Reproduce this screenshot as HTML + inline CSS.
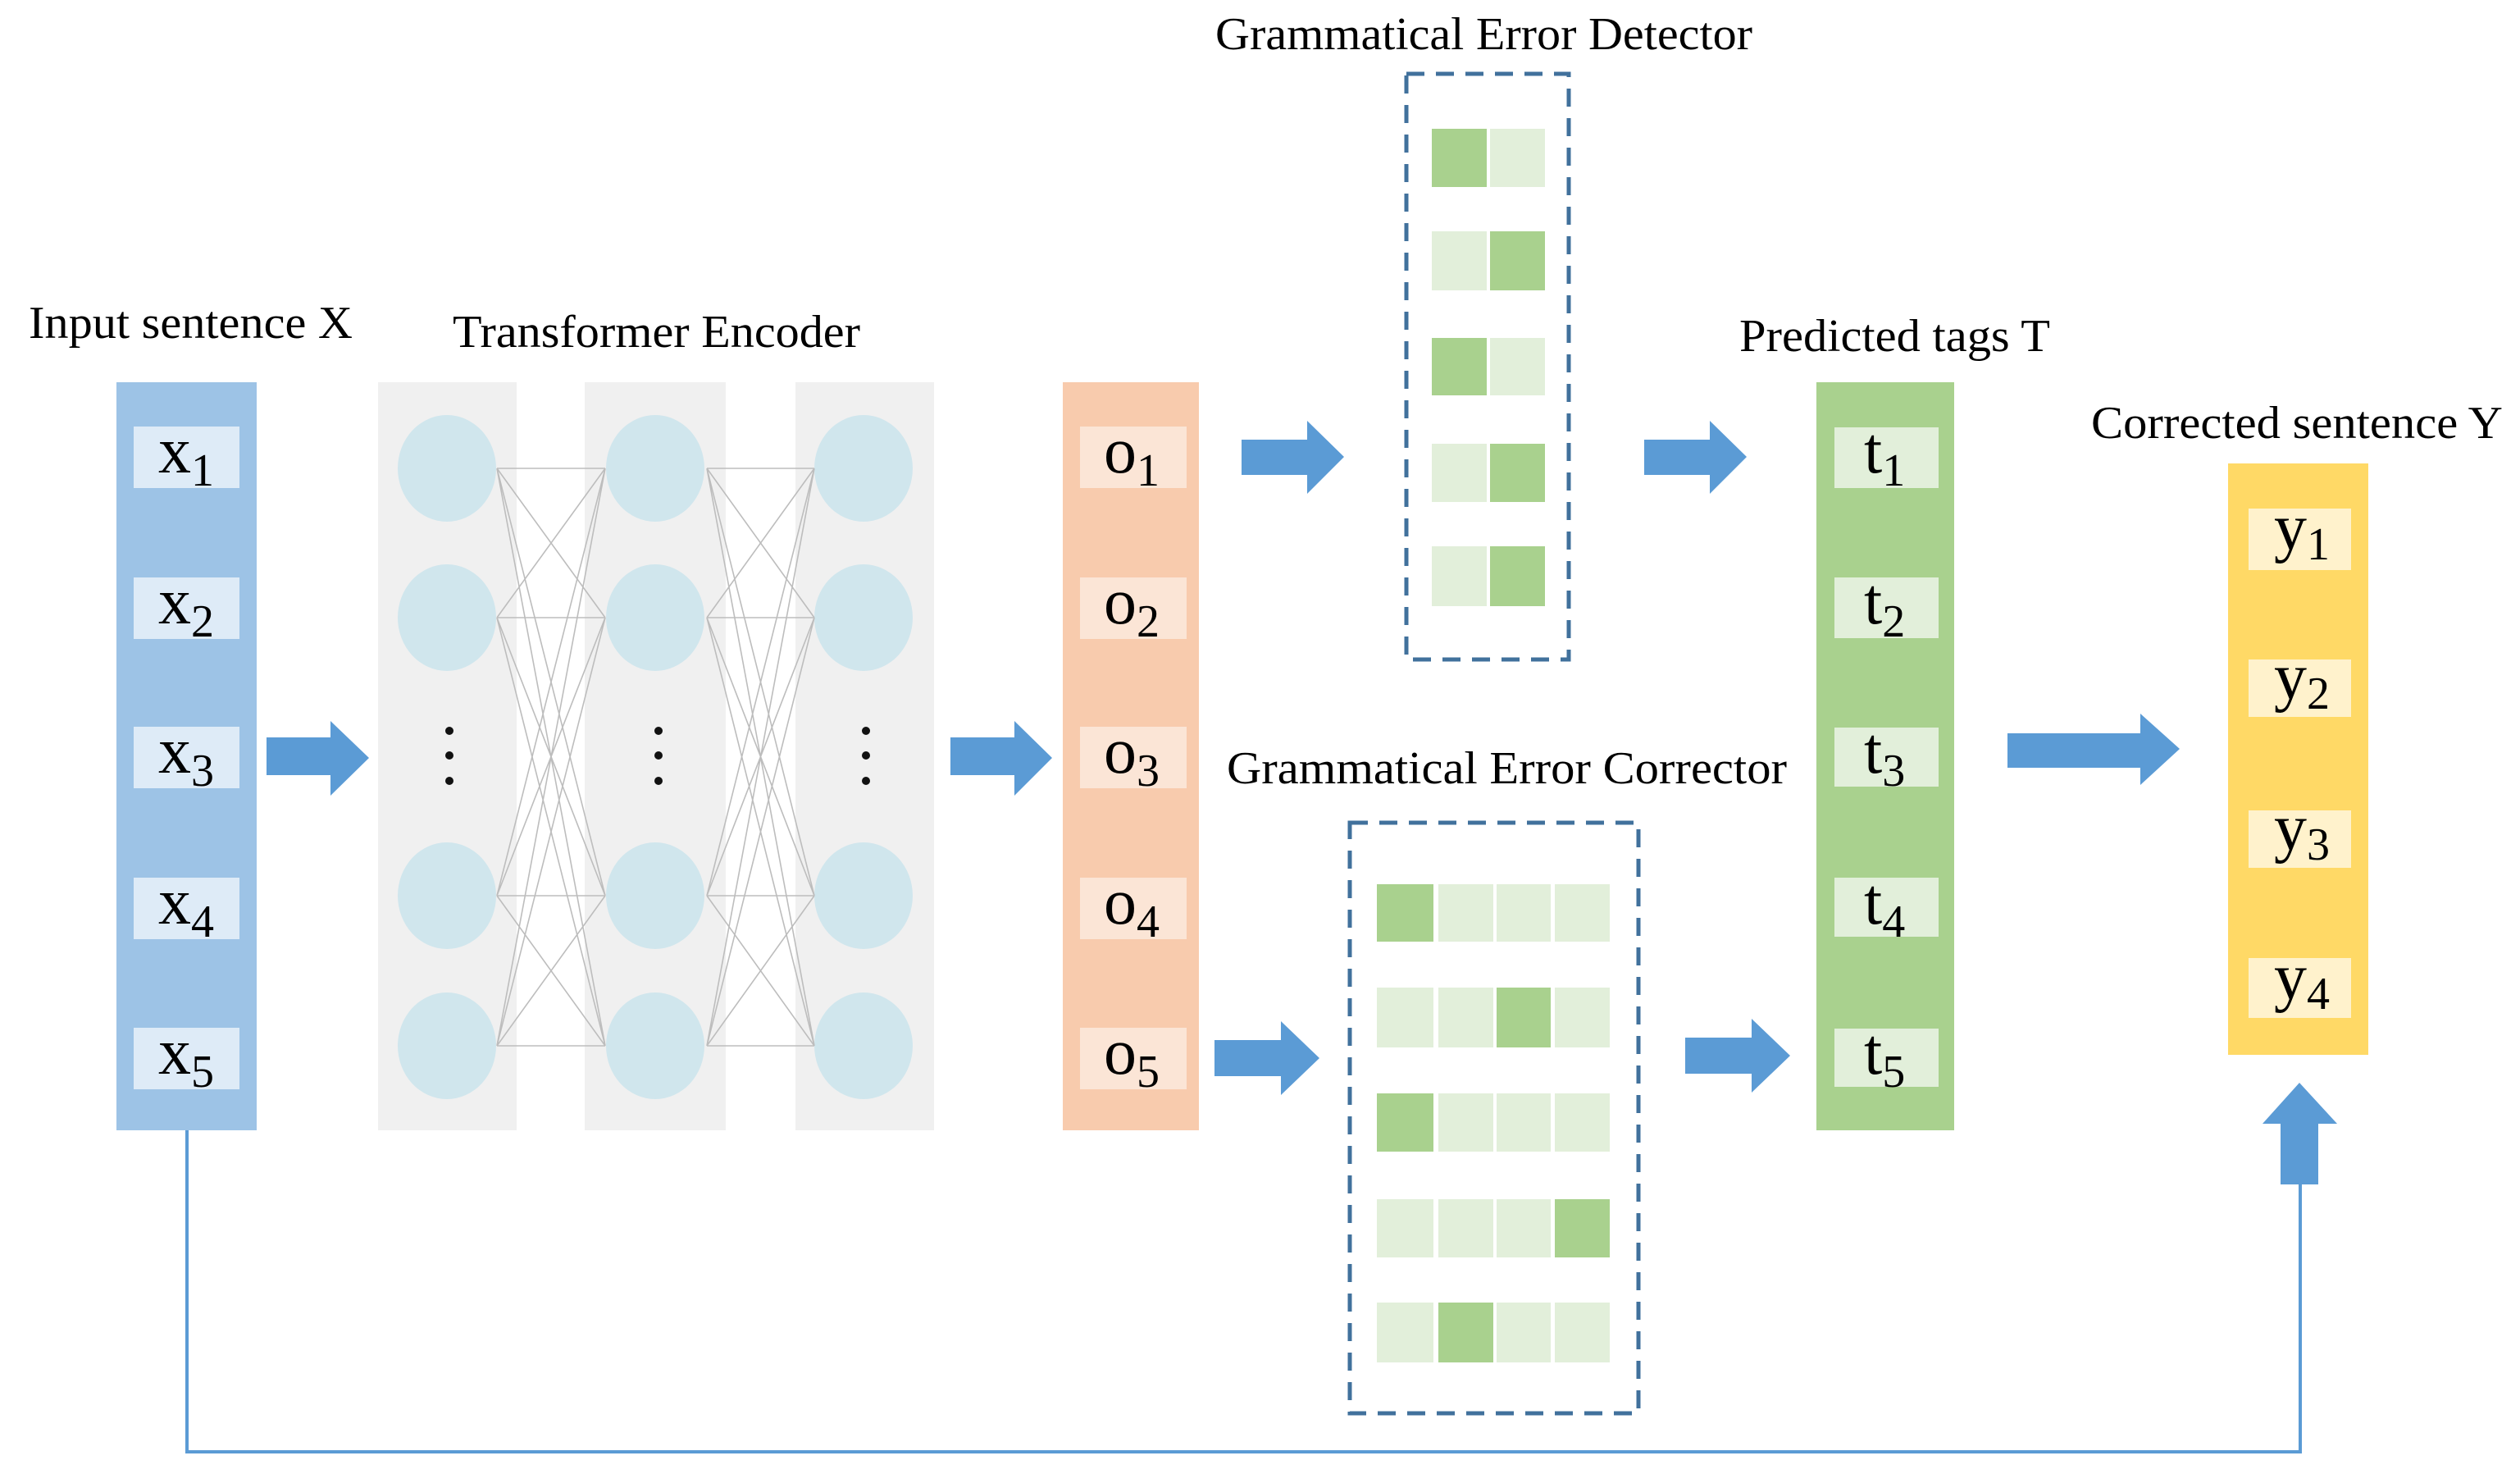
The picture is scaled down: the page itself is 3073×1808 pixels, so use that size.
<!DOCTYPE html>
<html><head><meta charset="utf-8"><style>
html,body{margin:0;padding:0;background:#fff}
svg{display:block}
text{font-family:"Liberation Serif",serif;fill:#000}
</style></head><body>
<svg width="3073" height="1808" viewBox="0 0 3073 1808" xmlns="http://www.w3.org/2000/svg">
<text x="35" y="412" font-size="56" textLength="395" lengthAdjust="spacingAndGlyphs">Input sentence X</text>
<text x="552" y="423" font-size="56" textLength="497" lengthAdjust="spacingAndGlyphs">Transformer Encoder</text>
<text x="1482" y="60" font-size="56" textLength="655" lengthAdjust="spacingAndGlyphs">Grammatical Error Detector</text>
<text x="1496" y="955" font-size="56" textLength="683" lengthAdjust="spacingAndGlyphs">Grammatical Error Corrector</text>
<text x="2121" y="428" font-size="56" textLength="379" lengthAdjust="spacingAndGlyphs">Predicted tags T</text>
<text x="2550" y="534" font-size="56" textLength="502" lengthAdjust="spacingAndGlyphs">Corrected sentence Y</text>

<rect x="142" y="466" width="171" height="912" fill="#9dc3e6"/>
<g fill="#deebf7">
<rect x="163" y="520" width="129" height="75"/><rect x="163" y="704" width="129" height="75"/>
<rect x="163" y="886" width="129" height="75"/><rect x="163" y="1070" width="129" height="75"/>
<rect x="163" y="1253" width="129" height="75"/>
</g>
<g font-size="80"><text x="193" y="576">x<tspan font-size="56" dy="16">1</tspan></text>
<text x="193" y="760">x<tspan font-size="56" dy="16">2</tspan></text>
<text x="193" y="942">x<tspan font-size="56" dy="16">3</tspan></text>
<text x="193" y="1126">x<tspan font-size="56" dy="16">4</tspan></text>
<text x="193" y="1309">x<tspan font-size="56" dy="16">5</tspan></text></g>

<rect x="461" y="466" width="678" height="912" fill="#f0f0f0"/>
<rect x="630" y="466" width="83" height="912" fill="#fff"/>
<rect x="885" y="466" width="85" height="912" fill="#fff"/>
<g fill="#d0e6ed">
<ellipse cx="545" cy="571" rx="60" ry="65"/><ellipse cx="545" cy="753" rx="60" ry="65"/><ellipse cx="545" cy="1092" rx="60" ry="65"/><ellipse cx="545" cy="1275" rx="60" ry="65"/>
<ellipse cx="799" cy="571" rx="60" ry="65"/><ellipse cx="799" cy="753" rx="60" ry="65"/><ellipse cx="799" cy="1092" rx="60" ry="65"/><ellipse cx="799" cy="1275" rx="60" ry="65"/>
<ellipse cx="1053" cy="571" rx="60" ry="65"/><ellipse cx="1053" cy="753" rx="60" ry="65"/><ellipse cx="1053" cy="1092" rx="60" ry="65"/><ellipse cx="1053" cy="1275" rx="60" ry="65"/>
</g>
<g stroke="#bdbdbd" stroke-width="1.6" fill="none">
<path d="M606 571L738 571M606 571L738 753M606 571L738 1092M606 571L738 1275
M606 753L738 571M606 753L738 753M606 753L738 1092M606 753L738 1275
M606 1092L738 571M606 1092L738 753M606 1092L738 1092M606 1092L738 1275
M606 1275L738 571M606 1275L738 753M606 1275L738 1092M606 1275L738 1275"/>
<path d="M862 571L993 571M862 571L993 753M862 571L993 1092M862 571L993 1275
M862 753L993 571M862 753L993 753M862 753L993 1092M862 753L993 1275
M862 1092L993 571M862 1092L993 753M862 1092L993 1092M862 1092L993 1275
M862 1275L993 571M862 1275L993 753M862 1275L993 1092M862 1275L993 1275"/>
</g>
<g fill="#111">
<circle cx="548" cy="891" r="5"/><circle cx="548" cy="921" r="5"/><circle cx="548" cy="952" r="5"/>
<circle cx="803" cy="891" r="5"/><circle cx="803" cy="921" r="5"/><circle cx="803" cy="952" r="5"/>
<circle cx="1056" cy="891" r="5"/><circle cx="1056" cy="921" r="5"/><circle cx="1056" cy="952" r="5"/>
</g>

<g fill="#5b9bd5">
<polygon points="325,899 403,899 403,879 450,924 403,970 403,945 325,945"/>
<polygon points="1159,899 1237,899 1237,879 1283,924 1237,970 1237,945 1159,945"/>
<polygon points="1514,536 1594,536 1594,513 1639,557 1594,602 1594,579 1514,579"/>
<polygon points="2005,536 2085,536 2085,513 2130,557 2085,602 2085,579 2005,579"/>
<polygon points="1481,1268 1562,1268 1562,1245 1609,1290 1562,1335 1562,1312 1481,1312"/>
<polygon points="2055,1265 2136,1265 2136,1242 2183,1287 2136,1332 2136,1309 2055,1309"/>
<polygon points="2448,894 2610,894 2610,870 2658,913 2610,957 2610,936 2448,936"/>
<polygon points="2781,1444 2781,1370 2759,1370 2804,1320 2850,1370 2827,1370 2827,1444"/>
</g>
<polyline points="228,1378 228,1770 2805,1770 2805,1444" fill="none" stroke="#5b9bd5" stroke-width="4"/>

<rect x="1296" y="466" width="166" height="912" fill="#f8cbad"/>
<g fill="#fbe5d6">
<rect x="1317" y="520" width="130" height="75"/><rect x="1317" y="704" width="130" height="75"/>
<rect x="1317" y="886" width="130" height="75"/><rect x="1317" y="1070" width="130" height="75"/>
<rect x="1317" y="1253" width="130" height="75"/>
</g>
<g font-size="80"><text x="1346" y="576">o<tspan font-size="56" dy="16">1</tspan></text>
<text x="1346" y="760">o<tspan font-size="56" dy="16">2</tspan></text>
<text x="1346" y="942">o<tspan font-size="56" dy="16">3</tspan></text>
<text x="1346" y="1126">o<tspan font-size="56" dy="16">4</tspan></text>
<text x="1346" y="1309">o<tspan font-size="56" dy="16">5</tspan></text></g>

<rect x="1715" y="90" width="198" height="714" fill="none" stroke="#41719c" stroke-width="5" stroke-dasharray="22,14"/>
<g>
<rect x="1746" y="157" width="67" height="71" fill="#a9d18e"/><rect x="1817" y="157" width="67" height="71" fill="#e2efda"/>
<rect x="1746" y="282" width="67" height="72" fill="#e2efda"/><rect x="1817" y="282" width="67" height="72" fill="#a9d18e"/>
<rect x="1746" y="412" width="67" height="70" fill="#a9d18e"/><rect x="1817" y="412" width="67" height="70" fill="#e2efda"/>
<rect x="1746" y="541" width="67" height="71" fill="#e2efda"/><rect x="1817" y="541" width="67" height="71" fill="#a9d18e"/>
<rect x="1746" y="666" width="67" height="73" fill="#e2efda"/><rect x="1817" y="666" width="67" height="73" fill="#a9d18e"/>
</g>

<rect x="1646" y="1003" width="352" height="720" fill="none" stroke="#41719c" stroke-width="5" stroke-dasharray="22,14"/>
<g fill="#e2efda">
<rect x="1679" y="1078" width="69" height="70"/><rect x="1754" y="1078" width="67" height="70"/><rect x="1825" y="1078" width="66" height="70"/><rect x="1896" y="1078" width="67" height="70"/>
<rect x="1679" y="1204" width="69" height="73"/><rect x="1754" y="1204" width="67" height="73"/><rect x="1825" y="1204" width="66" height="73"/><rect x="1896" y="1204" width="67" height="73"/>
<rect x="1679" y="1333" width="69" height="71"/><rect x="1754" y="1333" width="67" height="71"/><rect x="1825" y="1333" width="66" height="71"/><rect x="1896" y="1333" width="67" height="71"/>
<rect x="1679" y="1462" width="69" height="71"/><rect x="1754" y="1462" width="67" height="71"/><rect x="1825" y="1462" width="66" height="71"/><rect x="1896" y="1462" width="67" height="71"/>
<rect x="1679" y="1588" width="69" height="73"/><rect x="1754" y="1588" width="67" height="73"/><rect x="1825" y="1588" width="66" height="73"/><rect x="1896" y="1588" width="67" height="73"/>
</g>
<g fill="#a9d18e">
<rect x="1679" y="1078" width="69" height="70"/>
<rect x="1825" y="1204" width="66" height="73"/>
<rect x="1679" y="1333" width="69" height="71"/>
<rect x="1896" y="1462" width="67" height="71"/>
<rect x="1754" y="1588" width="67" height="73"/>
</g>

<rect x="2215" y="466" width="168" height="912" fill="#a9d18e"/>
<g fill="#e2efda">
<rect x="2237" y="521" width="127" height="74"/><rect x="2237" y="704" width="127" height="74"/>
<rect x="2237" y="887" width="127" height="72"/><rect x="2237" y="1070" width="127" height="72"/>
<rect x="2237" y="1254" width="127" height="71"/>
</g>
<g font-size="80"><text x="2273" y="576">t<tspan font-size="56" dy="16">1</tspan></text>
<text x="2273" y="760">t<tspan font-size="56" dy="16">2</tspan></text>
<text x="2273" y="942">t<tspan font-size="56" dy="16">3</tspan></text>
<text x="2273" y="1126">t<tspan font-size="56" dy="16">4</tspan></text>
<text x="2273" y="1309">t<tspan font-size="56" dy="16">5</tspan></text></g>

<rect x="2717" y="565" width="171" height="721" fill="#ffd966"/>
<g fill="#fff2cc">
<rect x="2742" y="620" width="125" height="75"/><rect x="2742" y="804" width="125" height="70"/>
<rect x="2742" y="988" width="125" height="70"/><rect x="2742" y="1168" width="125" height="73"/>
</g>
<g font-size="80"><text x="2773" y="670">y<tspan font-size="56" dy="12">1</tspan></text>
<text x="2773" y="852">y<tspan font-size="56" dy="12">2</tspan></text>
<text x="2773" y="1036">y<tspan font-size="56" dy="12">3</tspan></text>
<text x="2773" y="1218">y<tspan font-size="56" dy="12">4</tspan></text></g>
</svg>
</body></html>
